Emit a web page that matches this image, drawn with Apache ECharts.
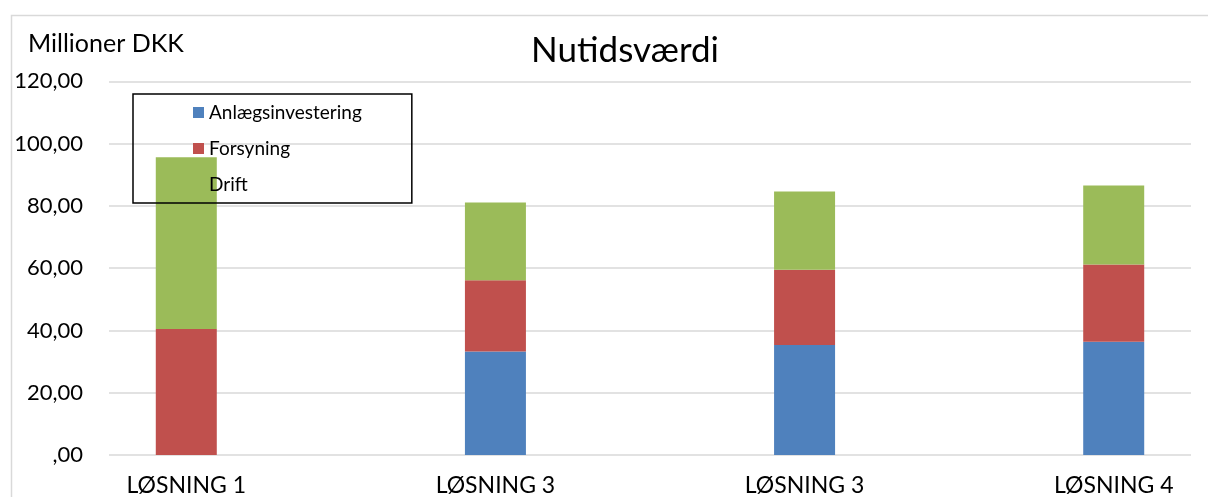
<!DOCTYPE html>
<html><head><meta charset="utf-8">
<script src="https://cdn.jsdelivr.net/npm/echarts@6/dist/echarts.min.js"></script>
<style>html,body{margin:0;padding:0;background:#fff;overflow:hidden}#c{width:1208px;height:497px}</style>
</head><body><div id="c"></div>
<script>
const categories = ['LØSNING 1', 'LØSNING 3', 'LØSNING 3', 'LØSNING 4'];
const seriesNames = ['Anlægsinvestering', 'Forsyning', 'Drift'];
const anlaeg = [0, 33.2, 35.3, 36.4];
const forsyning = [40.5, 22.9, 24.2, 24.8];
const drift = [55.1, 25.0, 25.1, 25.3];
const yTicks = [0, 20, 40, 60, 80, 100, 120];

const colors = ['#4f81bd', '#c0504d', '#9bbb59'];
const FONT = 'Lato';
const yMin = yTicks[0], yMax = yTicks[yTicks.length - 1], yStep = yTicks[1] - yTicks[0];

// The reference places each category in the middle of a band, with a half-band gap
// between neighbouring categories: interleave empty spacer slots.
const spread = arr => arr.flatMap((v, i) => i < arr.length - 1 ? [v, null] : [v]);
const axisCats = spread(categories).map(c => c === null ? '' : c);
const barData = arr => spread(arr).map(v => v === null ? '-' : v);

const chart = echarts.init(document.getElementById('c'), null, {renderer: 'canvas'});
chart.setOption({
  animation: false,
  backgroundColor: '#fff',
  color: colors,
  graphic: [{
    type: 'rect', left: 9, top: 13, silent: true, z: -10,
    shape: {width: 1260, height: 600},
    style: {fill: 'none', stroke: '#d9d9d9', lineWidth: 1.5}
  }],
  title: [
    {text: 'Nutidsværdi', left: 620, top: 28, textAlign: 'center',
     textStyle: {fontFamily: FONT, fontSize: 35, fontWeight: 'normal', color: '#000'}},
    {text: 'Millioner DKK', left: 21, top: 31, padding: [0, 0, 0, 7],
     textStyle: {fontFamily: FONT, fontSize: 25, fontWeight: 'normal', color: '#000'}}
  ],
  legend: {
    orient: 'vertical', left: 133, top: 94,
    padding: [8, 50, 8, 60],
    borderColor: '#000', borderWidth: 1.5,
    itemWidth: 11, itemHeight: 11, itemGap: 15,
    icon: 'rect',
    textStyle: {fontFamily: FONT, fontSize: 19, color: '#000', lineHeight: 21},
    data: [
      {name: seriesNames[0]},
      {name: seriesNames[1]},
      {name: seriesNames[2], itemStyle: {opacity: 0}}
    ],
    z: 10
  },
  grid: {left: 109, right: 17, top: 81.3, bottom: 38, containLabel: false},
  xAxis: {
    type: 'category', data: axisCats,
    axisLine: {show: false}, axisTick: {show: false}, splitLine: {show: false},
    axisLabel: {fontFamily: FONT, fontSize: 23, color: '#000', margin: 19, interval: 0}
  },
  yAxis: {
    type: 'value', min: yMin, max: yMax, interval: yStep,
    axisLine: {show: false}, axisTick: {show: false},
    splitLine: {lineStyle: {color: '#d9d9d9', width: 1.5}},
    axisLabel: {
      formatter: v => v === 0 ? ',00' : v.toFixed(2).replace('.', ','),
      fontFamily: FONT, fontSize: 22, color: '#000', margin: 26
    }
  },
  series: [
    {name: seriesNames[0], type: 'bar', stack: 'a', barWidth: 61, data: barData(anlaeg)},
    {name: seriesNames[1], type: 'bar', stack: 'a', barWidth: 61, data: barData(forsyning)},
    {name: seriesNames[2], type: 'bar', stack: 'a', barWidth: 61, data: barData(drift)}
  ]
});
</script></body></html>
